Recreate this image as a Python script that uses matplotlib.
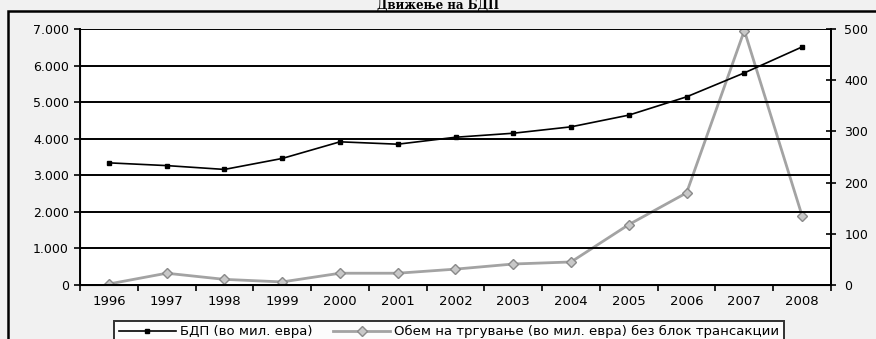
import matplotlib.pyplot as plt
from matplotlib.patches import Rectangle
from matplotlib.ticker import FuncFormatter, FixedLocator

godini = ["1996", "1997", "1998", "1999", "2000", "2001", "2002",
          "2003", "2004", "2005", "2006", "2007", "2008"]
bdp = [3340, 3265, 3160, 3460, 3915, 3850, 4040, 4150, 4325, 4645, 5145, 5800, 6510]
obem = [2, 23, 11, 6, 23, 23, 31, 41, 45, 118, 180, 497, 135]

plt.rcParams['font.family'] = ['DejaVu Sans']

fig = plt.figure(figsize=(8.76, 3.39), dpi=100)
fig.patch.set_facecolor('#f1f1f1')

# outer frame of the scanned chart
fig.patches.append(Rectangle((8 / 876, -0.05), 1.0, 1 - 11 / 339 + 0.05,
                             transform=fig.transFigure, fill=False,
                             edgecolor='black', linewidth=1.8))

fig.text(0.5, 1 - 9 / 339, "Движење на БДП", ha='center', va='baseline',
         fontsize=8.5, fontweight='bold', family='DejaVu Serif')

ax = fig.add_axes([80 / 876, 1 - 285 / 339, (831 - 80) / 876, (285 - 29) / 339])
ax.set_facecolor('white')
x = list(range(len(godini)))

l1, = ax.plot(x, bdp, color='black', linewidth=1.2, marker='s', markersize=3.5,
              label="БДП (во мил. евра)", zorder=4)
ax.set_ylim(0, 7000)
ax.set_xlim(-0.5, len(godini) - 0.5)
ax.set_yticks(range(0, 7001, 1000))
ax.yaxis.set_major_formatter(FuncFormatter(lambda v, p: f"{int(v):,}".replace(",", ".")))
ax.grid(axis='y', color='black', linewidth=1.4)
ax.set_axisbelow(True)

ax.xaxis.set_major_locator(FixedLocator([i - 0.5 for i in range(len(godini) + 1)]))
ax.xaxis.set_minor_locator(FixedLocator(x))
ax.set_xticklabels([], minor=False)
ax.set_xticklabels(godini, minor=True)
ax.tick_params(axis='x', which='minor', length=0, pad=7, labelsize=9.5)
ax.tick_params(axis='x', which='major', length=4, direction='out', width=1.2)
ax.tick_params(axis='y', length=4, direction='out', width=1.2, labelsize=9, pad=4)
for s in ['left', 'bottom', 'right']:
    ax.spines[s].set_linewidth(1.4)
ax.spines['top'].set_visible(False)

ax2 = ax.twinx()
l2, = ax2.plot(x, obem, color='#a3a3a3', linewidth=2.0, marker='D', markersize=5,
               markerfacecolor='#c8c8c8', markeredgecolor='#8a8a8a',
               label="Обем на тргување (во мил. евра) без блок трансакции", zorder=3)
ax2.set_ylim(0, 500)
ax2.set_yticks(range(0, 501, 100))
ax2.tick_params(axis='y', length=7, direction='inout', width=1.2, labelsize=9, pad=6)
ax2.spines['right'].set_linewidth(1.4)
ax2.spines['top'].set_visible(False)
ax.set_zorder(ax2.get_zorder() + 1)
ax.patch.set_visible(False)
ax2.patch.set_facecolor('white')
ax2.patch.set_visible(True)

leg = fig.legend(handles=[l1, l2], loc='upper center', ncol=2,
                 bbox_to_anchor=(449 / 876, 1 - 314 / 339), frameon=True,
                 fontsize=9.5, handlelength=4.3, columnspacing=1.6,
                 handletextpad=0.3, borderpad=0.35, fancybox=False)
leg.get_frame().set_edgecolor('black')
leg.get_frame().set_linewidth(1.4)
leg.get_frame().set_facecolor('white')

fig.savefig("out.png", dpi=100, facecolor=fig.get_facecolor())
